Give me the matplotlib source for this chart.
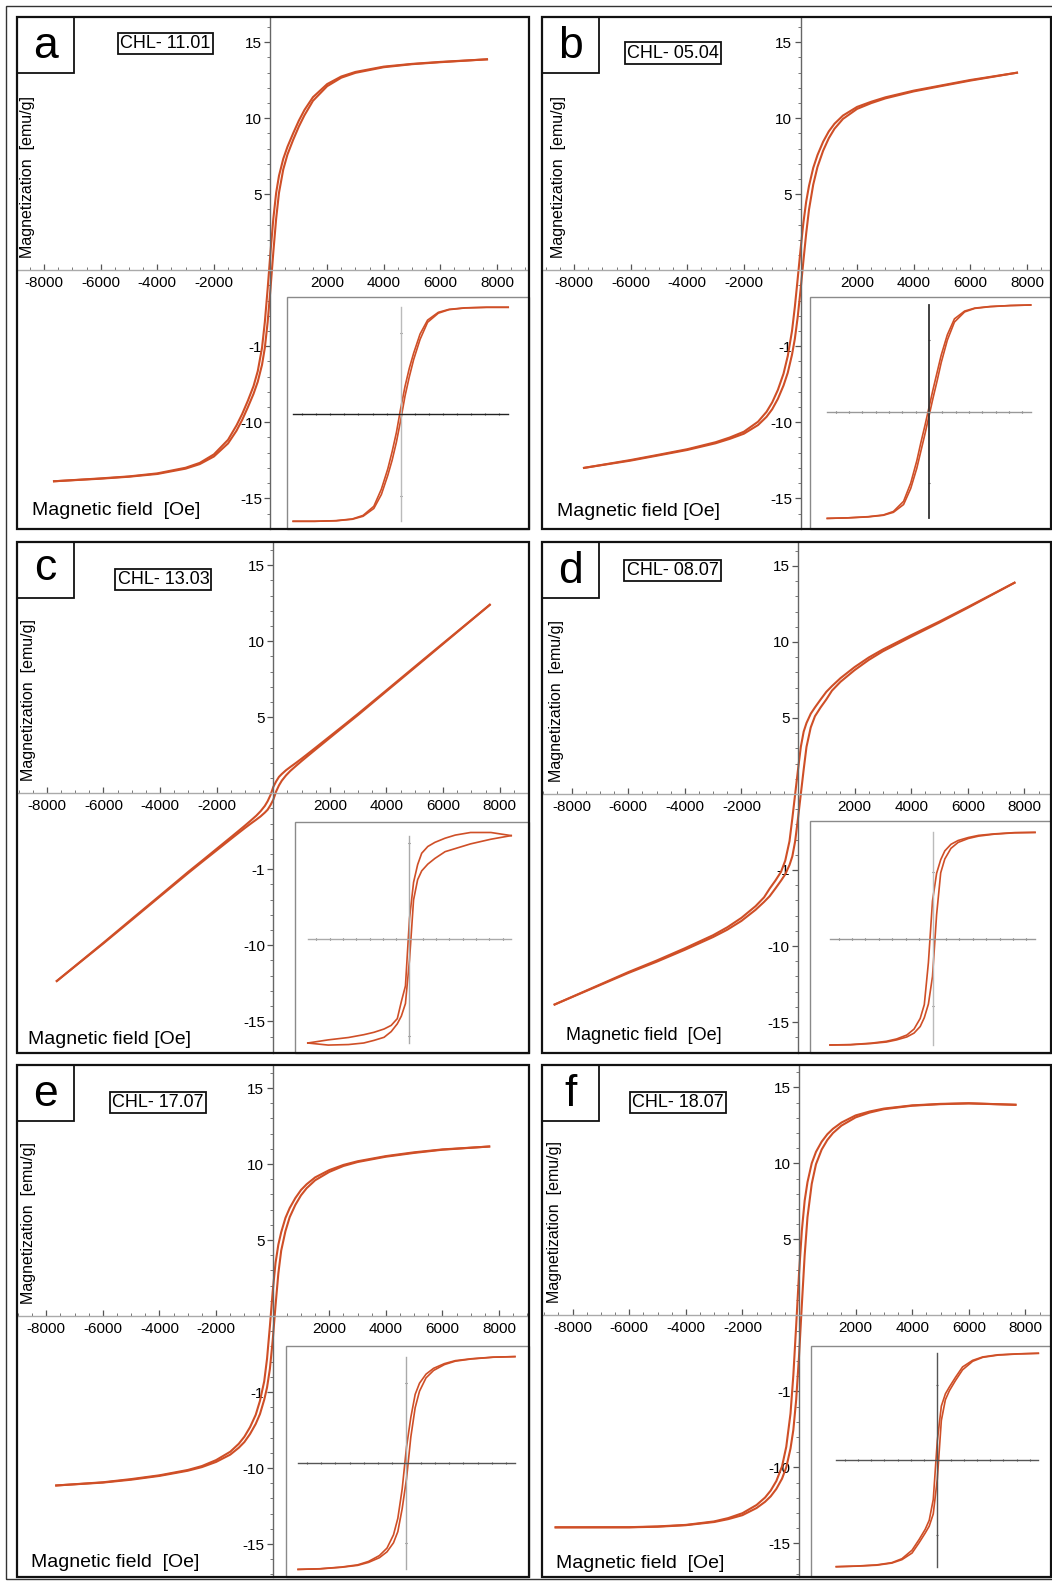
import matplotlib
matplotlib.use("Agg")
import matplotlib.pyplot as plt
from matplotlib.patches import Rectangle
from matplotlib.ticker import FixedLocator, FixedFormatter, MultipleLocator

plt.rcParams["font.family"] = ["Liberation Sans", "DejaVu Sans"]

# ---- hysteresis loops, magnetization in emu/g ----
FIELD_OE = [-7650, -6000, -5000, -4000, -3000, -2500, -2000, -1500, -1200, -1000, -800, -600,
            -450, -300, -200, -100, 0, 100, 200, 300, 450, 600, 800, 1000, 1200, 1500,
            2000, 2500, 3000, 4000, 5000, 6000, 7650]
FIELD_OE_WIDE = [-8600, -6000, -5000, -4000, -3000, -2500, -2000, -1500, -1200, -1000, -800, -600,
                 -450, -300, -200, -100, 0, 100, 200, 300, 450, 600, 800, 1000, 1200, 1500,
                 2000, 2500, 3000, 4000, 5000, 6000, 7650]

A_DESC = [-13.88, -13.69, -13.56, -13.36, -12.99, -12.67, -12.11, -11.15, -10.2, -9.45, -8.58, -7.62,
          -6.63, -5.1, -3.4, -1.2, 1.2, 3.4, 5.1, 6.22, 7.33, 8.13, 9.01, 9.84, 10.55, 11.39,
          12.25, 12.75, 13.05, 13.4, 13.58, 13.71, 13.88]
A_ASC = [-13.88, -13.71, -13.58, -13.4, -13.05, -12.75, -12.25, -11.39, -10.55, -9.84, -9.01, -8.13,
         -7.33, -6.22, -5.1, -3.4, -1.2, 1.2, 3.4, 5.1, 6.63, 7.62, 8.58, 9.45, 10.2, 11.15,
         12.11, 12.67, 12.99, 13.36, 13.56, 13.69, 13.88]

B_DESC = [-13.0, -12.48, -12.13, -11.77, -11.31, -11.0, -10.62, -9.96, -9.31, -8.69, -7.87, -6.8,
          -5.64, -3.99, -2.41, -0.57, 1.33, 3.09, 4.51, 5.55, 6.74, 7.58, 8.46, 9.14, 9.64, 10.18,
          10.75, 11.09, 11.38, 11.82, 12.17, 12.52, 13.0]
B_ASC = [-13.0, -12.52, -12.17, -11.82, -11.38, -11.09, -10.75, -10.18, -9.64, -9.14, -8.46, -7.58,
         -6.74, -5.55, -4.51, -3.09, -1.33, 0.57, 2.41, 3.99, 5.64, 6.8, 7.87, 8.69, 9.31, 9.96,
         10.62, 11.0, 11.31, 11.77, 12.13, 12.48, 13.0]

C_DESC = [-12.35, -9.83, -8.27, -6.72, -5.16, -4.41, -3.65, -2.89, -2.43, -2.12, -1.8, -1.47,
          -1.18, -0.83, -0.52, -0.12, 0.42, 0.78, 1.08, 1.27, 1.52, 1.73, 2.0, 2.28, 2.57, 3.01,
          3.75, 4.49, 5.24, 6.78, 8.33, 9.87, 12.4]
C_ASC = [-12.35, -9.87, -8.33, -6.78, -5.24, -4.49, -3.75, -3.01, -2.57, -2.28, -2.0, -1.73,
         -1.52, -1.27, -1.08, -0.78, -0.42, 0.12, 0.52, 0.83, 1.18, 1.47, 1.8, 2.12, 2.43, 2.89,
         3.65, 4.41, 5.16, 6.72, 8.27, 9.83, 12.4]

D_DESC = [-13.85, -11.72, -10.96, -10.15, -9.29, -8.77, -8.15, -7.38, -6.8, -6.22, -5.7, -5.12,
          -4.38, -3.1, -1.6, 0.0, 1.6, 3.1, 4.1, 4.67, 5.28, 5.7, 6.22, 6.72, 7.1, 7.62,
          8.35, 8.98, 9.51, 10.45, 11.35, 12.3, 13.9]
D_ASC = [-13.85, -11.78, -11.04, -10.25, -9.41, -8.93, -8.35, -7.62, -7.1, -6.72, -6.22, -5.7,
         -5.28, -4.67, -4.1, -3.1, -1.6, 0.0, 1.6, 3.1, 4.38, 5.12, 5.7, 6.22, 6.8, 7.38,
         8.15, 8.82, 9.39, 10.35, 11.28, 12.25, 13.9]

E_DESC = [-11.15, -10.94, -10.73, -10.48, -10.13, -9.87, -9.48, -8.93, -8.41, -7.94, -7.31, -6.5,
          -5.58, -4.3, -2.81, -0.69, 1.61, 3.49, 4.7, 5.51, 6.45, 7.1, 7.76, 8.29, 8.67, 9.12,
          9.6, 9.94, 10.18, 10.52, 10.77, 10.96, 11.15]
E_ASC = [-11.15, -10.96, -10.77, -10.52, -10.18, -9.94, -9.6, -9.12, -8.67, -8.29, -7.76, -7.1,
         -6.45, -5.51, -4.7, -3.49, -1.61, 0.69, 2.81, 4.3, 5.58, 6.5, 7.31, 7.94, 8.41, 8.93,
         9.48, 9.87, 10.13, 10.48, 10.73, 10.94, 11.15]

F_DESC = [-13.95, -13.94, -13.89, -13.79, -13.56, -13.34, -13.02, -12.48, -11.99, -11.53, -10.9, -9.94,
          -8.65, -6.46, -3.94, -0.68, 2.72, 5.56, 7.54, 8.76, 10.0, 10.75, 11.42, 11.91, 12.27, 12.68,
          13.15, 13.41, 13.6, 13.81, 13.91, 13.95, 13.85]
F_ASC = [-13.95, -13.95, -13.91, -13.81, -13.6, -13.41, -13.15, -12.68, -12.27, -11.91, -11.42, -10.75,
         -10.0, -8.76, -7.54, -5.56, -2.72, 0.68, 3.94, 6.46, 8.65, 9.94, 10.9, 11.53, 11.99, 12.48,
         13.02, 13.34, 13.56, 13.79, 13.89, 13.94, 13.85]

# ---- inset loops, normalized field and magnetization ----
INSET_FIELD = [-1.0, -0.8, -0.6, -0.45, -0.35, -0.25, -0.18, -0.12, -0.08, -0.04,
               0.0, 0.04, 0.08, 0.12, 0.18, 0.25, 0.35, 0.45, 0.6, 0.8, 1.0]

IA_DESC = [-1.0, -1.0, -0.994, -0.978, -0.945, -0.86, -0.70, -0.51, -0.35, -0.17,
           0.055, 0.26, 0.43, 0.57, 0.75, 0.88, 0.953, 0.981, 0.995, 1.0, 1.0]
IA_ASC = [-1.0, -1.0, -0.995, -0.981, -0.953, -0.88, -0.75, -0.57, -0.43, -0.26,
          -0.055, 0.17, 0.35, 0.51, 0.70, 0.86, 0.945, 0.978, 0.994, 1.0, 1.0]

IB_DESC = [-1.0, -0.995, -0.984, -0.968, -0.935, -0.84, -0.67, -0.46, -0.29, -0.13,
           0.04, 0.21, 0.37, 0.53, 0.72, 0.87, 0.943, 0.971, 0.986, 0.995, 1.0]
IB_ASC = [-1.0, -0.995, -0.986, -0.971, -0.943, -0.87, -0.72, -0.53, -0.37, -0.21,
          -0.04, 0.13, 0.29, 0.46, 0.67, 0.84, 0.935, 0.968, 0.984, 0.995, 1.0]

IC_DESC = [-1.0, -0.97, -0.947, -0.92, -0.897, -0.865, -0.83, -0.765, -0.6, -0.45,
           0.2, 0.55, 0.72, 0.83, 0.895, 0.935, 0.975, 1.005, 1.03, 1.03, 1.0]
IC_ASC = [-1.0, -1.02, -1.015, -1.0, -0.975, -0.945, -0.89, -0.815, -0.74, -0.62,
          -0.2, 0.38, 0.575, 0.66, 0.725, 0.78, 0.845, 0.875, 0.92, 0.965, 1.0]

ID_DESC = [-1.0, -0.996, -0.983, -0.965, -0.943, -0.906, -0.85, -0.75, -0.62, -0.225,
           0.355, 0.615, 0.743, 0.826, 0.888, 0.924, 0.952, 0.972, 0.986, 0.998, 1.0]
ID_ASC = [-1.0, -0.998, -0.986, -0.972, -0.952, -0.924, -0.888, -0.826, -0.743, -0.615,
          -0.355, 0.225, 0.62, 0.75, 0.85, 0.906, 0.943, 0.965, 0.983, 0.996, 1.0]

IE_DESC = [-1.0, -0.994, -0.978, -0.957, -0.925, -0.87, -0.80, -0.675, -0.52, -0.245,
           0.15, 0.43, 0.645, 0.75, 0.835, 0.89, 0.934, 0.962, 0.98, 0.995, 1.0]
IE_ASC = [-1.0, -0.995, -0.98, -0.962, -0.934, -0.89, -0.835, -0.75, -0.645, -0.43,
          -0.15, 0.245, 0.52, 0.675, 0.80, 0.87, 0.925, 0.957, 0.978, 0.994, 1.0]

IF_DESC = [-1.0, -0.994, -0.983, -0.962, -0.925, -0.845, -0.745, -0.65, -0.565, -0.37,
           0.18, 0.505, 0.62, 0.685, 0.775, 0.872, 0.934, 0.966, 0.986, 0.995, 1.0]
IF_ASC = [-1.0, -0.995, -0.986, -0.966, -0.934, -0.872, -0.775, -0.685, -0.62, -0.505,
          -0.18, 0.37, 0.565, 0.65, 0.745, 0.845, 0.925, 0.962, 0.983, 0.994, 1.0]

X_TICKS = [-8000, -6000, -4000, -2000, 2000, 4000, 6000, 8000]
X_TICK_LABELS = ["-8000", "-6000", "-4000", "-2000", "2000", "4000", "6000", "8000"]
Y_TICKS = [-15, -10, -5, 5, 10, 15]
Y_TICK_LABELS = ["-15", "-10", "-1", "5", "10", "15"]

W, H = 1052, 1581
PX_PER_OE = 0.0283      # horizontal scale of every main panel
PX_PER_EMU = 15.2       # vertical scale of every main panel
LOOP_COLOR = "#cf4f27"

# layout in pixels: frame (l, t, r, b), origin of the field/magnetization axes,
# inset box (left, top), inset loop centre and half-size
PANELS = [
    dict(letter="a", sample="CHL- 11.01", frame=(17, 17, 528.5, 528.5), origin=(270.5, 270.3),
         sample_xy=(165.6, 43.8), ylab_x=28, xlab=("Magnetic field  [Oe]", 31.7, 510.8, 14),
         inset=(287, 297, 400.7, 414.3, 107.5, 107), hcol="#222222", vcol="#bbbbbb", vtick=0.76,
         field=FIELD_OE, desc=A_DESC, asc=A_ASC, idesc=IA_DESC, iasc=IA_ASC),
    dict(letter="b", sample="CHL- 05.04", frame=(541.6, 17, 1051, 528.5), origin=(800.5, 270.3),
         sample_xy=(673, 53), ylab_x=558, xlab=("Magnetic field [Oe]", 557, 511.4, 14),
         inset=(810, 297.3, 929, 411.7, 101.7, 106.7), hcol="#999999", vcol="#333333", vtick=0.67,
         field=FIELD_OE, desc=B_DESC, asc=B_ASC, idesc=IB_DESC, iasc=IB_ASC),
    dict(letter="c", sample="CHL- 13.03", frame=(17, 541.6, 528.5, 1053), origin=(273.3, 793.3),
         sample_xy=(163.4, 579.3), ylab_x=28.5, xlab=("Magnetic field [Oe]", 28.5, 1039, 14),
         inset=(295, 822, 409.5, 939.3, 101.7, 103.7), hcol="#aaaaaa", vcol="#aaaaaa", vtick=0.93,
         field=FIELD_OE, desc=C_DESC, asc=C_ASC, idesc=IC_DESC, iasc=IC_ASC),
    dict(letter="d", sample="CHL- 08.07", frame=(541.6, 541.6, 1051, 1053), origin=(798, 794),
         sample_xy=(672.5, 570.5), ylab_x=556, xlab=("Magnetic field  [Oe]", 566, 1036, 13),
         inset=(810, 820.7, 932.5, 938.7, 102.5, 106.3), hcol="#999999", vcol="#bbbbbb", vtick=0.63,
         field=FIELD_OE_WIDE, desc=D_DESC, asc=D_ASC, idesc=ID_DESC, iasc=ID_ASC),
    dict(letter="e", sample="CHL- 17.07", frame=(17, 1065, 528.5, 1576.5), origin=(272.7, 1316),
         sample_xy=(157.7, 1102.2), ylab_x=28.5, xlab=("Magnetic field  [Oe]", 31, 1562.5, 14),
         inset=(286.4, 1345.5, 406.5, 1463, 108.4, 106.4), hcol="#555555", vcol="#aaaaaa", vtick=0.75,
         field=FIELD_OE, desc=E_DESC, asc=E_ASC, idesc=IE_DESC, iasc=IE_ASC),
    dict(letter="f", sample="CHL- 18.07", frame=(541.6, 1065, 1051, 1576.5), origin=(799, 1315.3),
         sample_xy=(678, 1102.8), ylab_x=554, xlab=("Magnetic field  [Oe]", 555.7, 1564, 14),
         inset=(810.7, 1345.7, 937.3, 1460, 101, 106.7), hcol="#555555", vcol="#555555", vtick=0.70,
         field=FIELD_OE_WIDE, desc=F_DESC, asc=F_ASC, idesc=IF_DESC, iasc=IF_ASC),
]


def fig_rect(l, t, r, b):
    return [l / W, 1 - b / H, (r - l) / W, (b - t) / H]


def fx(x):
    return x / W


def fy(y):
    return 1 - y / H


fig = plt.figure(figsize=(W / 100, H / 100), dpi=100)
fig.patch.set_facecolor("white")

for p in PANELS:
    l, t, r, b = p["frame"]
    x0, y0 = p["origin"]

    ax = fig.add_axes(fig_rect(l, t, r, b))
    ax.set_xlim((l - x0) / PX_PER_OE, (r - x0) / PX_PER_OE)
    ax.set_ylim((y0 - b) / PX_PER_EMU, (y0 - t) / PX_PER_EMU)
    for side in ("top", "right"):
        ax.spines[side].set_visible(False)
    ax.spines["left"].set_position(("data", 0))
    ax.spines["bottom"].set_position(("data", 0))
    ax.spines["left"].set_color("#666666")
    ax.spines["bottom"].set_color("#aaaaaa")
    ax.spines["left"].set_linewidth(1.0)
    ax.spines["bottom"].set_linewidth(1.0)

    ax.xaxis.set_major_locator(FixedLocator(X_TICKS))
    ax.xaxis.set_major_formatter(FixedFormatter(X_TICK_LABELS))
    ax.xaxis.set_minor_locator(MultipleLocator(500))
    ax.yaxis.set_major_locator(FixedLocator(Y_TICKS))
    ax.yaxis.set_major_formatter(FixedFormatter(Y_TICK_LABELS))
    ax.yaxis.set_minor_locator(MultipleLocator(1))
    ax.tick_params(axis="x", which="major", direction="in", length=4, width=0.9,
                   color="#555555", labelsize=11, pad=4)
    ax.tick_params(axis="x", which="minor", direction="in", length=2.5, width=0.7, color="#777777")
    ax.tick_params(axis="y", which="major", direction="out", length=4, width=0.9,
                   color="#555555", labelsize=11, pad=2)
    ax.tick_params(axis="y", which="minor", direction="out", length=2.5, width=0.7, color="#777777")

    ax.plot(p["field"], p["desc"], color=LOOP_COLOR, lw=1.5, solid_joinstyle="round")
    ax.plot(p["field"], p["asc"], color=LOOP_COLOR, lw=1.5, solid_joinstyle="round")

    # inset: loop shown on its own unlabeled cross of axes
    il, it, cx, cy, hw, hh = p["inset"]
    ia = fig.add_axes(fig_rect(il, it, r, b))
    ia.set_facecolor("white")
    ia.set_xlim((il - cx) / hw, (r - cx) / hw)
    ia.set_ylim((cy - b) / hh, (cy - it) / hh)
    for side in ("top", "right"):
        ia.spines[side].set_visible(False)
    ia.spines["left"].set_position(("data", 0))
    ia.spines["bottom"].set_position(("data", 0))
    ia.spines["left"].set_bounds(-1, 1)
    ia.spines["bottom"].set_bounds(-1, 1)
    ia.spines["left"].set_color(p["vcol"])
    ia.spines["bottom"].set_color(p["hcol"])
    ia.spines["left"].set_linewidth(1.3 if p["vcol"] == "#333333" else 1.0)
    ia.spines["bottom"].set_linewidth(1.0)
    ia.xaxis.set_major_locator(FixedLocator([k * 0.131 for k in range(-7, 8) if k != 0]))
    ia.yaxis.set_major_locator(FixedLocator([-p["vtick"], p["vtick"]]))
    ia.tick_params(axis="both", direction="inout", length=2, width=0.8, color="#555555",
                   labelbottom=False, labelleft=False)
    ia.plot(INSET_FIELD, p["idesc"], color=LOOP_COLOR, lw=1.2, solid_joinstyle="round")
    ia.plot(INSET_FIELD, p["iasc"], color=LOOP_COLOR, lw=1.2, solid_joinstyle="round")
    fig.add_artist(Rectangle((fx(il), fy(b)), fx(r - il), (b - it) / H, transform=fig.transFigure,
                             fill=False, ec="#8a8a8a", lw=1.0, zorder=2))

    # panel frame, letter box and labels
    fig.add_artist(Rectangle((fx(l), fy(b)), fx(r - l), (b - t) / H, transform=fig.transFigure,
                             fill=False, ec="#111111", lw=1.6, zorder=3))
    fig.add_artist(Rectangle((fx(l), fy(t + 56)), fx(57), 56 / H, transform=fig.transFigure,
                             fill=False, ec="#111111", lw=1.3, zorder=3))
    fig.text(fx(l + 28.5), fy(t + 41 if p["letter"] != "c" else t + 38), p["letter"],
             fontsize=32, ha="center", va="baseline", zorder=4)
    sx, sy = p["sample_xy"]
    fig.text(fx(sx), fy(sy), p["sample"], fontsize=13, ha="center", va="center", zorder=4,
             bbox=dict(boxstyle="square,pad=0.12", fc="white", ec="#111111", lw=1.3))
    fig.text(fx(p["ylab_x"]), fy(y0 - 12), "Magnetization  [emu/g]", rotation=90,
             fontsize=11.5, ha="center", va="bottom", zorder=4)
    text, tx, ty, size = p["xlab"]
    fig.text(fx(tx), fy(ty), text, fontsize=size, ha="left", va="center", zorder=4)

# outer border (its right side runs past the edge of the canvas)
fig.add_artist(Rectangle((fx(6), fy(1578.5)), fx(1060), 1572.5 / H, transform=fig.transFigure,
                         fill=False, ec="#333333", lw=1.0, zorder=3))

fig.savefig("out.png", dpi=100, facecolor="white")
